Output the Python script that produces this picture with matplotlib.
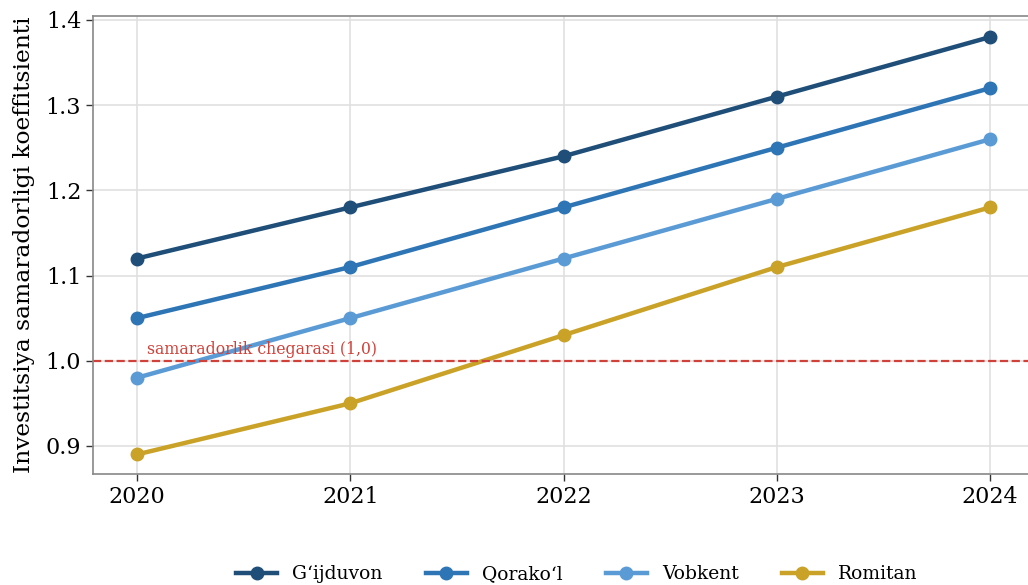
import matplotlib
matplotlib.use("Agg")
import matplotlib.pyplot as plt

years = [2020, 2021, 2022, 2023, 2024]
names = ["G\u2018ijduvon", "Qorako\u2018l", "Vobkent", "Romitan"]
gijduvon = [1.12, 1.18, 1.24, 1.31, 1.38]
qorakol = [1.05, 1.11, 1.18, 1.25, 1.32]
vobkent = [0.98, 1.05, 1.12, 1.19, 1.26]
romitan = [0.89, 0.95, 1.03, 1.11, 1.18]
colors = ["#1f4e79", "#2e75b6", "#5b9bd5", "#c9a227"]
threshold = 1.0

plt.rcParams['font.family'] = ['DejaVu Serif']

fig = plt.figure(figsize=(10.28, 5.85), dpi=100)
ax = fig.add_axes([0.0905, 0.1897, 0.91, 0.783])

for vals, name, c in zip([gijduvon, qorakol, vobkent, romitan], names, colors):
    ax.plot(years, vals, color=c, lw=3.2, marker='o', ms=9, label=name)

ax.axhline(threshold, color='#d0413a', ls='--', lw=1.6)
ax.text(2020.047, threshold + 0.003, "samaradorlik chegarasi (1,0)", color='#d0413a',
        fontsize=11.3, va='bottom', ha='left')

ax.set_xlim(2019.794, 2024.18)
ax.set_ylim(0.867, 1.4047)
ax.set_xticks(years)
ax.set_yticks([0.9, 1.0, 1.1, 1.2, 1.3, 1.4])
ax.tick_params(labelsize=16, length=5, width=1, color='#333333', pad=3.5)
ax.set_ylabel("Investitsiya samaradorligi koeffitsienti", fontsize=16.8, labelpad=8)
ax.grid(True, color='#e0e0e0', lw=1.2)
ax.set_axisbelow(True)
for s in ['left', 'bottom', 'top']:
    ax.spines[s].set_color('#888888')
    ax.spines[s].set_linewidth(1.2)
ax.spines['right'].set_visible(False)

fig.legend(loc='center', bbox_to_anchor=(0.561, 0.018), ncol=4, frameon=False,
           fontsize=13.5, handlelength=2.2, columnspacing=2.3)

fig.savefig("out.png", dpi=100)
